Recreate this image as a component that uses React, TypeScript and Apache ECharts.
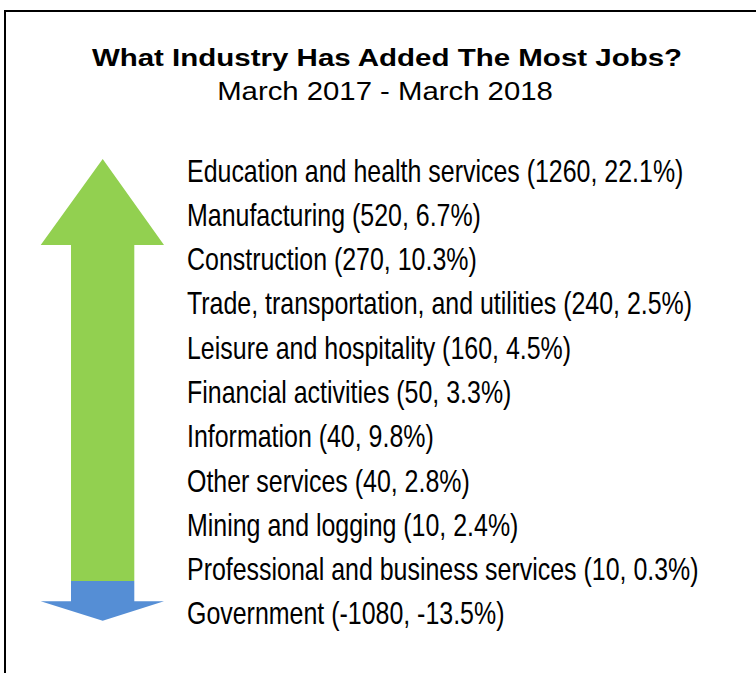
import React, { useEffect, useRef } from "react";
import * as echarts from "echarts";

const titleText = "What Industry Has Added The Most Jobs?";
const subtitleText = "March 2017 - March 2018";

const categories = [
  "Education and health services",
  "Manufacturing",
  "Construction",
  "Trade, transportation, and utilities",
  "Leisure and hospitality",
  "Financial activities",
  "Information",
  "Other services",
  "Mining and logging",
  "Professional and business services",
  "Government",
];
const jobsAdded = [1260, 520, 270, 240, 160, 50, 40, 40, 10, 10, -1080];
const pctChange = [22.1, 6.7, 10.3, 2.5, 4.5, 3.3, 9.8, 2.8, 2.4, 0.3, -13.5];

const GREEN = "#92D050";
const BLUE = "#558ED5";

export default function App() {
  const ref = useRef<HTMLDivElement>(null);

  useEffect(() => {
    document.body.style.margin = "0";
    if (!ref.current) return;
    const chart = echarts.init(ref.current, null, { renderer: "svg" });

    const labelFor = (i: number) =>
      `${categories[i]} (${jobsAdded[i]}, ${pctChange[i].toFixed(1)}%)`;

    const baseGraphics: any[] = [
      {
        type: "rect",
        shape: { x: 5, y: 11, width: 800, height: 800 },
        style: { fill: "none", stroke: "#000000", lineWidth: 2 },
        silent: true,
      },
      {
        type: "text",
        x: 387,
        y: 58,
        scaleX: 1.255,
        style: {
          text: titleText,
          fontSize: 23.5,
          fontWeight: "bold",
          fontFamily: "'Liberation Sans', Arial, sans-serif",
          fill: "#000000",
          align: "center",
          verticalAlign: "middle",
        },
      },
      {
        type: "text",
        x: 385,
        y: 91,
        scaleX: 1.15,
        style: {
          text: subtitleText,
          fontSize: 25.5,
          fontFamily: "'Liberation Sans', Arial, sans-serif",
          fill: "#000000",
          align: "center",
          verticalAlign: "middle",
        },
      },
      {
        type: "polygon",
        shape: {
          points: [
            [102.7, 159],
            [164, 245],
            [134.3, 245],
            [134.3, 581],
            [71, 581],
            [71, 245],
            [40.7, 245],
          ],
        },
        style: { fill: GREEN },
        silent: true,
      },
      {
        type: "polygon",
        shape: {
          points: [
            [71, 581],
            [134.3, 581],
            [134.3, 601.3],
            [164, 601.3],
            [102.7, 620.7],
            [40.7, 601.3],
            [71, 601.3],
          ],
        },
        style: { fill: BLUE },
        silent: true,
      },
    ];

    const option: any = {
      animation: false,
      backgroundColor: "#ffffff",
      grid: { left: 187, top: 149, height: 487, width: 540, containLabel: false },
      xAxis: { type: "value", show: false, min: -1200, max: 1400 },
      yAxis: {
        type: "category",
        data: categories,
        inverse: true,
        axisLine: { show: false },
        axisTick: { show: false },
        splitLine: { show: false },
        axisLabel: { show: false },
      },
      series: [],
      graphic: baseGraphics,
    };

    chart.setOption(option);

    const labelGraphics = categories.map((c, i) => {
      const y = chart.convertToPixel({ yAxisIndex: 0 }, c) as number;
      return {
        type: "text",
        x: 187,
        y,
        scaleX: 0.805,
        style: {
          text: labelFor(i),
          fontSize: 31,
          fontFamily: "'Liberation Sans', Arial, sans-serif",
          fill: "#000000",
          align: "left",
          verticalAlign: "middle",
        },
      };
    });

    chart.setOption({ graphic: [...baseGraphics, ...labelGraphics] });
    return () => chart.dispose();
  }, []);

  return <div ref={ref} style={{ width: 756, height: 673 }} />;
}
